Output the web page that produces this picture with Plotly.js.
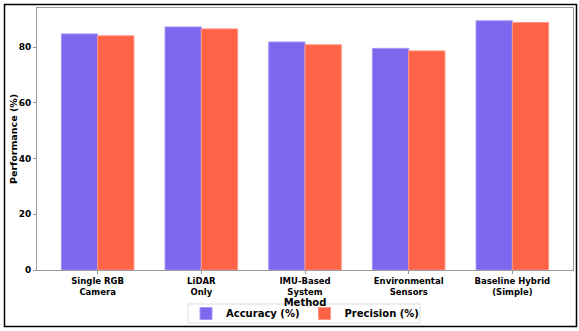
<!DOCTYPE html>
<html>
<head>
<meta charset="utf-8">
<script src="https://cdn.plot.ly/plotly-3.0.1.min.js"></script>
<style>
  html, body { margin: 0; padding: 0; background: #ffffff; }
  #chart { width: 579px; height: 331px; }
</style>
</head>
<body>
<div id="chart"></div>
<script>
const methods = ["Single RGB<br>Camera", "LiDAR<br>Only", "IMU-Based<br>System", "Environmental<br>Sensors", "Baseline Hybrid<br>(Simple)"];
const accuracy = [84.8, 87.3, 81.9, 79.6, 89.5];
const precision = [84.1, 86.6, 80.9, 78.7, 88.9];
const yTicks = [0, 20, 40, 60, 80];

const FONT = "DejaVu Sans, Verdana, sans-serif";

const traces = [
  {
    type: "bar", name: "Accuracy (%)", x: methods, y: accuracy,
    marker: { color: "#7B68EE", line: { color: "#a497f4", width: 1 } }
  },
  {
    type: "bar", name: "Precision (%)", x: methods, y: precision,
    marker: { color: "#FF6347", line: { color: "#ff9682", width: 1 } }
  }
];

// plot area: x 37..573, y 8..270
const L = 37, R = 573, T = 8, B = 270;
const pw = R - L, ph = B - T;
function px(x) { return (x - L) / pw; }
function py(y) { return (B - y) / ph; }

const layout = {
  width: 579, height: 331,
  margin: { l: L, r: 579 - R, t: T, b: 331 - B, pad: 0, autoexpand: false },
  paper_bgcolor: "#ffffff", plot_bgcolor: "#ffffff",
  font: { family: FONT, size: 9, color: "#000000", weight: "bold" },
  barmode: "group", bargap: 0.3, bargroupgap: 0,
  showlegend: true,
  legend: {
    orientation: "h", x: 0.5, xanchor: "center", y: py(299), yanchor: "top",
    borderwidth: 0, bgcolor: "rgba(0,0,0,0)",
    font: { family: FONT, size: 10, weight: "bold", color: "#000000" },
    itemwidth: 30
  },
  xaxis: {
    type: "category", range: [-0.585, 4.585], automargin: false,
    showline: true, mirror: true, linecolor: "#999999", linewidth: 1,
    ticks: "outside", ticklen: 3, tickcolor: "#999999",
    ticklabelstandoff: 0,
    tickfont: { family: FONT, size: 8.5, weight: "bold", color: "#000000" },
    showgrid: false, zeroline: false,
    title: { text: "Method", font: { family: FONT, size: 10, weight: "bold", color: "#000000" }, standoff: 0 }
  },
  yaxis: {
    range: [0, 94.1], automargin: false,
    tickvals: yTicks, ticktext: yTicks.map(String),
    showline: true, mirror: true, linecolor: "#999999", linewidth: 1,
    ticks: "outside", ticklen: 3, tickcolor: "#999999",
    tickfont: { family: FONT, size: 9, weight: "bold", color: "#000000" },
    showgrid: false, zeroline: false
  },
  annotations: [
    {
      text: "Performance (%)", textangle: -90, showarrow: false,
      xref: "paper", yref: "paper", x: px(13), y: py(139), xanchor: "center", yanchor: "middle",
      font: { family: FONT, size: 9.5, weight: "bold", color: "#000000" }
    }
  ],
  shapes: [
    {
      type: "rect", xref: "paper", yref: "paper",
      x0: px(188), x1: px(420), y0: py(323), y1: py(304),
      line: { color: "#dddddd", width: 1 }, fillcolor: "#ffffff", layer: "below"
    },
    {
      type: "rect", xref: "paper", yref: "paper",
      x0: px(4.5), x1: px(576.5), y0: py(326.5), y1: py(4.5),
      line: { color: "#000000", width: 1.5 }, fillcolor: "rgba(0,0,0,0)", layer: "above"
    }
  ]
};

Plotly.newPlot("chart", traces, layout, { displayModeBar: false, staticPlot: true });
</script>
</body>
</html>
